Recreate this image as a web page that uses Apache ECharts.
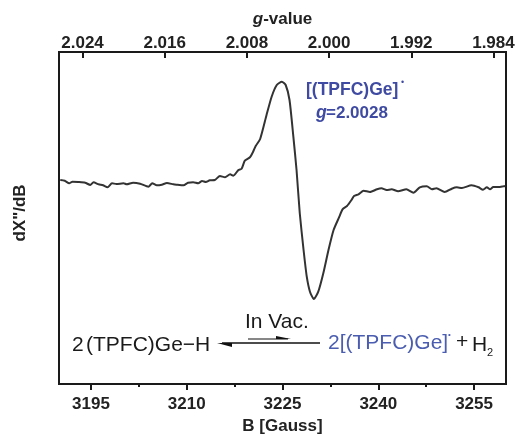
<!DOCTYPE html>
<html>
<head>
<meta charset="utf-8">
<title>EPR spectrum</title>
<script src="https://cdn.jsdelivr.net/npm/echarts@6/dist/echarts.min.js"></script>
<style>
html,body{margin:0;padding:0;background:#fff;}
#chart{width:517px;height:435px;}
</style>
</head>
<body>
<div id="chart"></div>
<script>
// field in Gauss, signal in arbitrary units
const fieldValues=[3190.2,3190.9,3191.6,3192.1,3193.0,3194.1,3194.9,3195.4,3196.2,3196.9,3197.6,3198.3,3199.0,3200.1,3200.6,3201.6,3202.7,3204.0,3204.6,3205.3,3206.1,3206.9,3207.9,3208.4,3209.5,3210.2,3211.0,3211.8,3212.4,3213.0,3213.6,3214.4,3215.2,3216.0,3216.8,3217.3,3218.1,3218.6,3219.1,3219.9,3220.4,3220.8,3221.5,3222.5,3223.3,3224.1,3224.9,3225.5,3226.1,3226.7,3227.2,3227.7,3228.3,3228.8,3229.3,3229.9,3230.6,3231.4,3232.2,3233.0,3233.9,3234.4,3235.1,3235.8,3236.2,3236.9,3237.7,3238.7,3239.8,3240.5,3241.3,3242.1,3243.1,3244.4,3245.5,3246.5,3247.6,3248.4,3249.1,3250.4,3251.5,3252.3,3253.1,3254.6,3255.7,3256.4,3257.0,3257.5,3258.0,3258.8,3259.6,3259.9]
const signalValues=[2,1.3,-1.3,0.3,0,-0.7,-3,-0.3,-2.3,-3.3,-5.3,-1.3,-2,-1.3,-2.3,-0.7,-1.7,-4.7,-1.3,-3.3,-2.7,-1,-2.3,-2.7,-3.3,-0.7,-0.3,-1.3,1,0,1.7,2,6,4.7,7.7,6.3,12,13.3,21.3,24.7,30.3,36,43,67,85.3,97,100.3,97,82,45.3,12,-31,-68,-94.7,-109.7,-117,-109.7,-91,-68,-48,-34.7,-27.3,-24,-18,-14,-12.3,-8.7,-10,-7.3,-6.3,-8,-7.3,-9.3,-7.3,-10.7,-5.3,-4.3,-7.3,-6.3,-10,-6.7,-5.3,-6,-3.3,-5.3,-7.7,-5.3,-7.3,-5,-5,-4.3,-4]
const fieldTicks=[3195,3210,3225,3240,3255]
const fieldMinorTicks=[3202.5,3217.5,3232.5,3247.5]
const gTicks=[2.024,2.016,2.008,2.000,1.992,1.984]

const fontName='"Liberation Sans",Arial,sans-serif'
const axisColor='#1a1a1a'
const blue='#3f4ba3'
const schemeBlue='#4a5db0'

const chart=echarts.init(document.getElementById('chart'))

const plainText=(text,x,y,size,color,extra)=>({
    type:'text',
    x:x,
    y:y,
    style:Object.assign({
        text:text,
        fontFamily:fontName,
        fontSize:size,
        fill:color,
        textVerticalAlign:'middle'
    },extra||{})
})

const option={
    animation:false,
    backgroundColor:'#fff',
    grid:{left:59,top:52,width:447,height:332,outerBoundsMode:'none',show:true,borderColor:axisColor,borderWidth:2,backgroundColor:'transparent'},
    xAxis:[
        {
            type:'value',
            position:'bottom',
            min:3190,
            max:3260,
            name:'B [Gauss]',
            nameLocation:'middle',
            nameGap:34,
            nameTextStyle:{fontFamily:fontName,fontWeight:'bold',fontSize:17,color:'#222'},
            splitLine:{show:false},
            axisLine:{show:true,onZero:false,lineStyle:{color:axisColor,width:2}},
            axisTick:{show:true,customValues:fieldTicks,length:6,lineStyle:{color:axisColor,width:2}},
            axisLabel:{customValues:fieldTicks,margin:12,formatter:v=>String(v),fontFamily:fontName,fontWeight:'bold',fontSize:17,color:'#222'}
        },
        {
            // short unlabelled ticks between the numbered ones
            type:'value',
            position:'bottom',
            min:3190,
            max:3260,
            splitLine:{show:false},
            axisLine:{show:false,onZero:false},
            axisTick:{show:true,customValues:fieldMinorTicks,length:3,lineStyle:{color:axisColor,width:2}},
            axisLabel:{show:false}
        },
        {
            type:'value',
            position:'top',
            inverse:true,
            min:1.98278,
            max:2.02629,
            name:'{i|g}{b|-value}',
            nameLocation:'middle',
            nameGap:24,
            nameTextStyle:{
                rich:{
                    i:{fontFamily:fontName,fontStyle:'italic',fontWeight:'bold',fontSize:17,color:'#222'},
                    b:{fontFamily:fontName,fontWeight:'bold',fontSize:17,color:'#222'}
                }
            },
            splitLine:{show:false},
            axisLine:{show:true,onZero:false,lineStyle:{color:axisColor,width:2}},
            axisTick:{show:true,inside:true,customValues:gTicks,length:6,lineStyle:{color:axisColor,width:2}},
            axisLabel:{customValues:gTicks,margin:0,formatter:v=>v.toFixed(3),fontFamily:fontName,fontWeight:'bold',fontSize:17,color:'#222'}
        }
    ],
    yAxis:{
        type:'value',
        min:-202,
        max:130,
        name:'dX"/dB',
        nameLocation:'middle',
        nameGap:30,
        nameTextStyle:{fontFamily:fontName,fontWeight:'bold',fontSize:17,color:'#222',padding:[0,0,0,10]},
        splitLine:{show:false},
        axisLine:{show:false},
        axisTick:{show:false},
        axisLabel:{show:false}
    },
    series:[
        {
            type:'line',
            xAxisIndex:0,
            data:fieldValues.map((b,i)=>[b,signalValues[i]]),
            symbol:'none',
            smooth:0.2,
            lineStyle:{color:'#333',width:2},
            clip:true
        }
    ],
    graphic:[
        plainText('[(TPFC)Ge]',306,90,17.5,blue,{fontWeight:'bold'}),
        plainText('•',401,83,9,blue),
        plainText('g',316,113,17.5,blue,{fontWeight:'bold',fontStyle:'italic'}),
        plainText('=2.0028',326,113,17,blue,{fontWeight:'bold'}),

        plainText('In Vac.',245,322,21,'#1a1a1a'),
        plainText('2',72,345,21,'#1a1a1a'),
        plainText('(TPFC)Ge−H',86,345,21,'#1a1a1a'),
        plainText('2[(TPFC)Ge]',328,343,21,schemeBlue),
        plainText('•',448,335,8,schemeBlue),
        plainText('+',456,342,21,'#1a1a1a'),
        plainText('H',472,345,21,'#1a1a1a'),
        plainText('2',487,353,11,'#1a1a1a'),

        // equilibrium arrows of the reaction
        {type:'line',shape:{x1:222,y1:343,x2:320,y2:343},style:{stroke:'#111',lineWidth:1.5}},
        {type:'polygon',shape:{points:[[217,343],[232,343],[232,347]]},style:{fill:'#111'}},
        {type:'line',shape:{x1:248,y1:339,x2:288,y2:339},style:{stroke:'#111',lineWidth:1.2}},
        {type:'polygon',shape:{points:[[291,339],[276,339],[276,336]]},style:{fill:'#111'}}
    ]
}
chart.setOption(option)
</script>
</body>
</html>
